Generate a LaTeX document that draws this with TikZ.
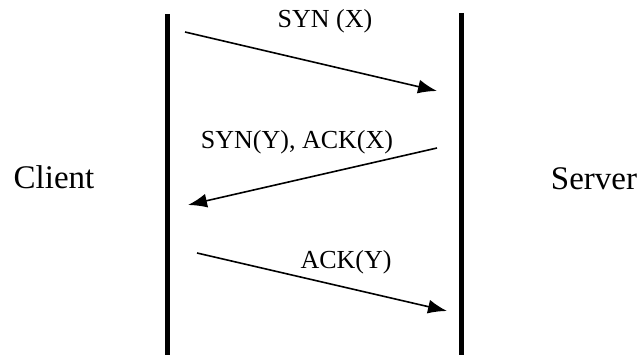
\documentclass[tikz,border=0pt]{standalone}
\usepackage{fontspec}
\setmainfont{Liberation Serif}
\usetikzlibrary{arrows.meta}
\begin{document}
\begin{tikzpicture}[
                x=1pt, y=-1pt,
                lifeline/.style={line width=5pt},
                message/.style={line width=1.6pt,-{Latex[length=19pt,width=14pt]}},
                msglabel/.style={anchor=base,inner sep=0pt,font=\fontsize{26}{30}\selectfont},
                party/.style={anchor=base,inner sep=0pt,font=\fontsize{33}{40}\selectfont}
            ]
            \useasboundingbox (0,0) rectangle (640,355);

            % the two lifelines
            \coordinate (ctop) at (167,14);
            \coordinate (cbot) at (167,355);
            \coordinate (stop) at (461.5,13);
            \coordinate (sbot) at (461.5,355);
            \draw[lifeline] (ctop) -- (cbot);
            \draw[lifeline] (stop) -- (sbot);

            \node[party] (client) at (54,189) {Client};
            \node[party] (server) at (594,190) {Server};

            % the three messages
            \coordinate (syn1) at (185,32);
            \coordinate (syn2) at (437,91);
            \coordinate (synack1) at (437,148);
            \coordinate (synack2) at (188,205);
            \coordinate (ack1) at (197,253);
            \coordinate (ack2) at (447,311);

            \draw[message] (syn1) -- (syn2);
            \draw[message] (synack1) -- (synack2);
            \draw[message] (ack1) -- (ack2);

            \node[msglabel] (synlabel) at (325,28) {SYN (X)};
            \node[msglabel] (synacklabel) at (297,149) {SYN(Y), ACK(X)};
            \node[msglabel] (acklabel) at (346,269) {ACK(Y)};

        \end{tikzpicture}
\end{document}
